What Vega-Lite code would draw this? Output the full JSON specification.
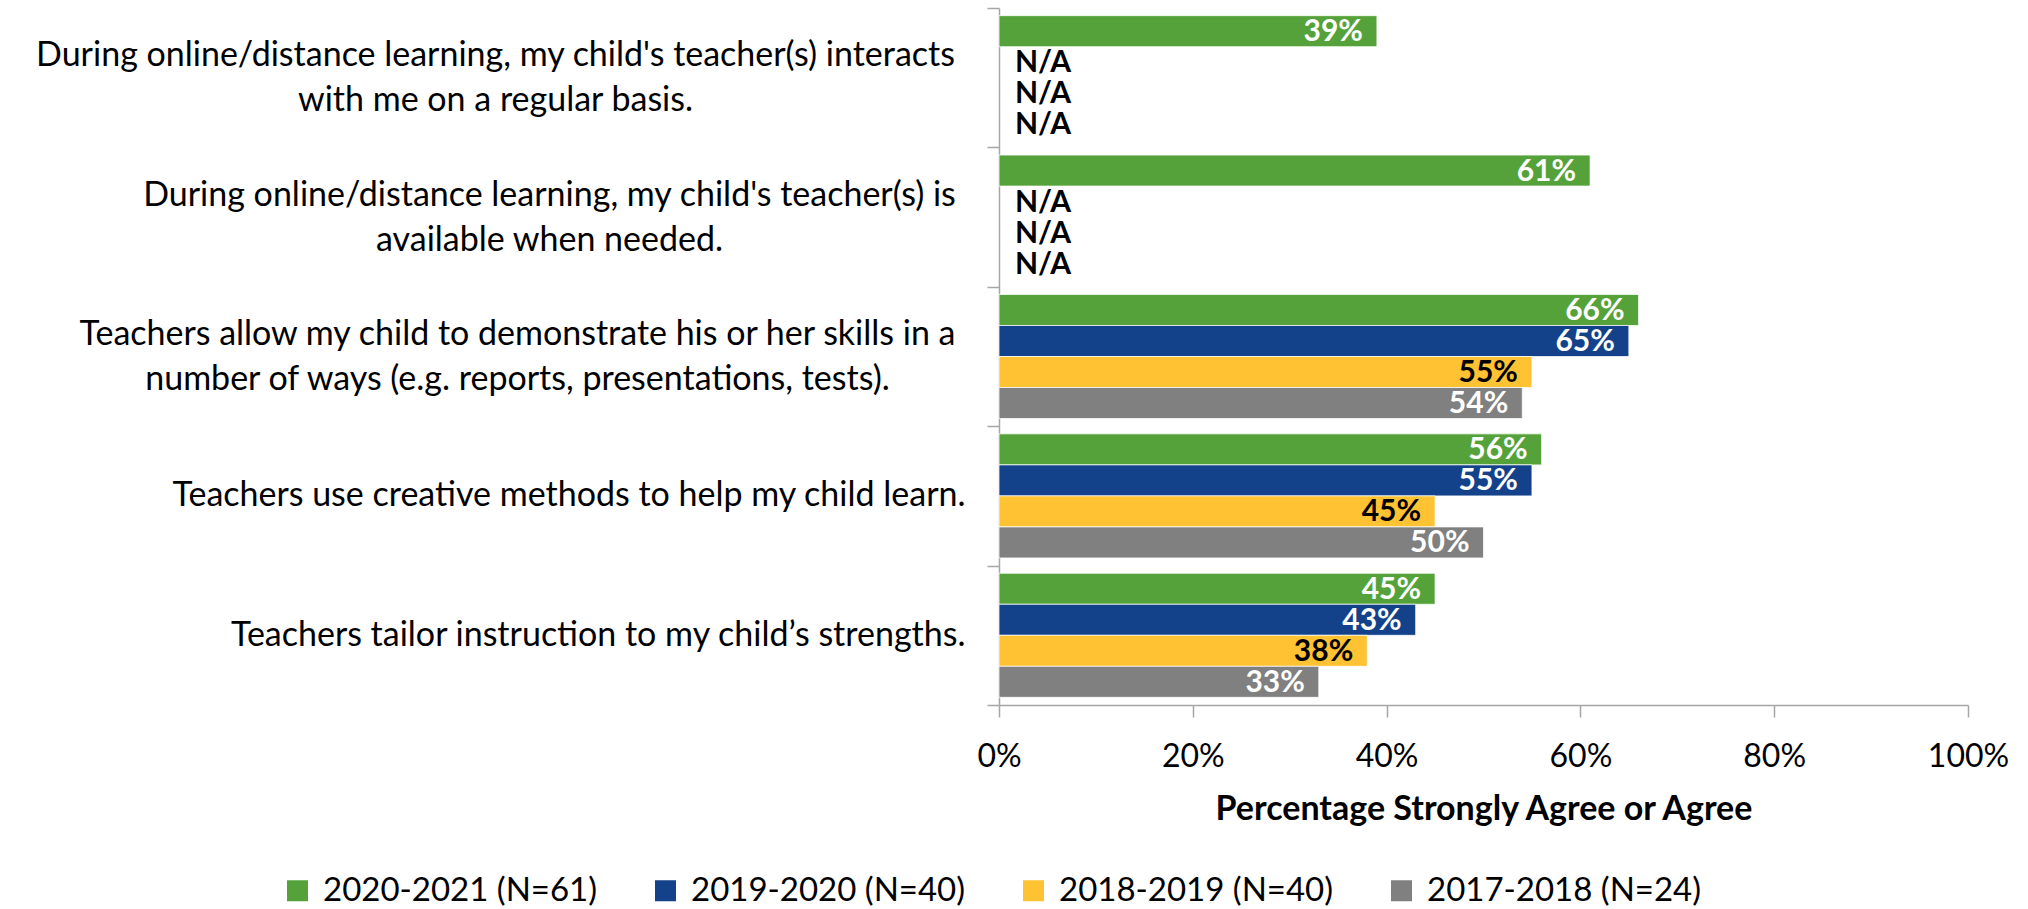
{
  "$schema": "https://vega.github.io/schema/vega-lite/v6.json",
  "width": 969,
  "height": 697,
  "autosize": {"type": "none"},
  "padding": {"left": 999, "top": 8, "right": 60, "bottom": 204},
  "background": "white",
  "config": {"font": "Lato", "view": {"stroke": null}},
  "data": {
    "values": [
      {"question": "During online/distance learning, my child's teacher(s) interacts|with me on a regular basis.", "year": "2020-2021 (N=61)", "value": 0.39},
      {"question": "During online/distance learning, my child's teacher(s) interacts|with me on a regular basis.", "year": "2019-2020 (N=40)", "value": null},
      {"question": "During online/distance learning, my child's teacher(s) interacts|with me on a regular basis.", "year": "2018-2019 (N=40)", "value": null},
      {"question": "During online/distance learning, my child's teacher(s) interacts|with me on a regular basis.", "year": "2017-2018 (N=24)", "value": null},
      {"question": "During online/distance learning, my child's teacher(s) is|available when needed.", "year": "2020-2021 (N=61)", "value": 0.61},
      {"question": "During online/distance learning, my child's teacher(s) is|available when needed.", "year": "2019-2020 (N=40)", "value": null},
      {"question": "During online/distance learning, my child's teacher(s) is|available when needed.", "year": "2018-2019 (N=40)", "value": null},
      {"question": "During online/distance learning, my child's teacher(s) is|available when needed.", "year": "2017-2018 (N=24)", "value": null},
      {"question": "Teachers allow my child to demonstrate his or her skills in a|number of ways (e.g. reports, presentations, tests).", "year": "2020-2021 (N=61)", "value": 0.66},
      {"question": "Teachers allow my child to demonstrate his or her skills in a|number of ways (e.g. reports, presentations, tests).", "year": "2019-2020 (N=40)", "value": 0.65},
      {"question": "Teachers allow my child to demonstrate his or her skills in a|number of ways (e.g. reports, presentations, tests).", "year": "2018-2019 (N=40)", "value": 0.55},
      {"question": "Teachers allow my child to demonstrate his or her skills in a|number of ways (e.g. reports, presentations, tests).", "year": "2017-2018 (N=24)", "value": 0.54},
      {"question": "Teachers use creative methods to help my child learn.", "year": "2020-2021 (N=61)", "value": 0.56},
      {"question": "Teachers use creative methods to help my child learn.", "year": "2019-2020 (N=40)", "value": 0.55},
      {"question": "Teachers use creative methods to help my child learn.", "year": "2018-2019 (N=40)", "value": 0.45},
      {"question": "Teachers use creative methods to help my child learn.", "year": "2017-2018 (N=24)", "value": 0.50},
      {"question": "Teachers tailor instruction to my child’s strengths.", "year": "2020-2021 (N=61)", "value": 0.45},
      {"question": "Teachers tailor instruction to my child’s strengths.", "year": "2019-2020 (N=40)", "value": 0.43},
      {"question": "Teachers tailor instruction to my child’s strengths.", "year": "2018-2019 (N=40)", "value": 0.38},
      {"question": "Teachers tailor instruction to my child’s strengths.", "year": "2017-2018 (N=24)", "value": 0.33}
    ]
  },
  "encoding": {
    "y": {
      "field": "question",
      "type": "nominal",
      "sort": null,
      "scale": {"paddingInner": 0, "paddingOuter": 0},
      "axis": {
        "title": null,
        "labelExpr": "split(datum.label, '|')",
        "labelFontSize": 34,
        "labelLineHeight": 45,
        "labelColor": "#000000",
        "labelLimit": 0,
        "labelAlign": {"condition": {"test": "indexof(datum.label, '|') >= 0", "value": "center"}, "value": "right"},
        "labelPadding": {
          "condition": [
            {"test": "indexof(datum.label, 'interacts') >= 0", "value": 492},
            {"test": "indexof(datum.label, 'available') >= 0", "value": 438},
            {"test": "indexof(datum.label, 'demonstrate') >= 0", "value": 470}
          ],
          "value": 22
        },
        "labelOffset": {"condition": {"test": "indexof(datum.label, '|') >= 0", "value": -22}, "value": 0},
        "tickBand": "extent",
        "tickSize": 12,
        "tickColor": "#A6A6A6",
        "tickWidth": 1.5,
        "domainColor": "#A6A6A6",
        "domainWidth": 1.5,
        "grid": false
      }
    },
    "yOffset": {
      "field": "year",
      "type": "nominal",
      "sort": ["2020-2021 (N=61)", "2019-2020 (N=40)", "2018-2019 (N=40)", "2017-2018 (N=24)"],
      "scale": {"paddingInner": 0, "paddingOuter": 0.247}
    }
  },
  "layer": [
    {
      "mark": {"type": "bar", "stroke": "#ffffff", "strokeWidth": 0.75},
      "encoding": {
        "x": {
          "field": "value",
          "type": "quantitative",
          "scale": {"domain": [0, 1]},
          "axis": {
            "title": "Percentage Strongly Agree or Agree",
            "titleFontSize": 34,
            "titleFontWeight": "bold",
            "titleColor": "#000000",
            "titlePadding": 20,
            "values": [0, 0.2, 0.4, 0.6, 0.8, 1],
            "format": ".0%",
            "labelFontSize": 32,
            "labelColor": "#000000",
            "labelPadding": 24,
            "labelFlush": false,
            "labelOverlap": false,
            "tickSize": 12,
            "tickColor": "#A6A6A6",
            "tickWidth": 1.5,
            "domainColor": "#A6A6A6",
            "domainWidth": 1.5,
            "grid": false
          }
        },
        "color": {
          "field": "year",
          "type": "nominal",
          "sort": ["2020-2021 (N=61)", "2019-2020 (N=40)", "2018-2019 (N=40)", "2017-2018 (N=24)"],
          "scale": {
            "domain": ["2020-2021 (N=61)", "2019-2020 (N=40)", "2018-2019 (N=40)", "2017-2018 (N=24)"],
            "range": ["#55A23A", "#13418A", "#FFC232", "#808080"]
          },
          "legend": {
            "title": null,
            "orient": "none",
            "legendX": -718,
            "legendY": 866,
            "direction": "horizontal",
            "columns": 4,
            "padding": 0,
            "symbolType": "square",
            "symbolSize": 441,
            "symbolStrokeWidth": 0,
            "symbolOpacity": 1,
            "labelFontSize": 33,
            "labelColor": "#000000",
            "labelOffset": 9,
            "labelLimit": 400,
            "columnPadding": 51
          }
        }
      }
    },
    {
      "transform": [{"filter": "datum.value != null"}],
      "mark": {"type": "text", "align": "right", "baseline": "middle", "dx": -14, "dy": 1, "fontSize": 30, "fontWeight": "bold"},
      "encoding": {
        "x": {"field": "value", "type": "quantitative"},
        "text": {"field": "value", "type": "quantitative", "format": ".0%"},
        "color": {"condition": {"test": "datum.year === '2018-2019 (N=40)'", "value": "#000000"}, "value": "#ffffff"}
      }
    },
    {
      "transform": [{"filter": "datum.value == null"}],
      "mark": {"type": "text", "align": "left", "baseline": "middle", "dx": 16, "dy": 1, "fontSize": 30, "fontWeight": "bold", "color": "#000000"},
      "encoding": {
        "x": {"datum": 0, "type": "quantitative"},
        "text": {"value": "N/A"}
      }
    }
  ]
}
